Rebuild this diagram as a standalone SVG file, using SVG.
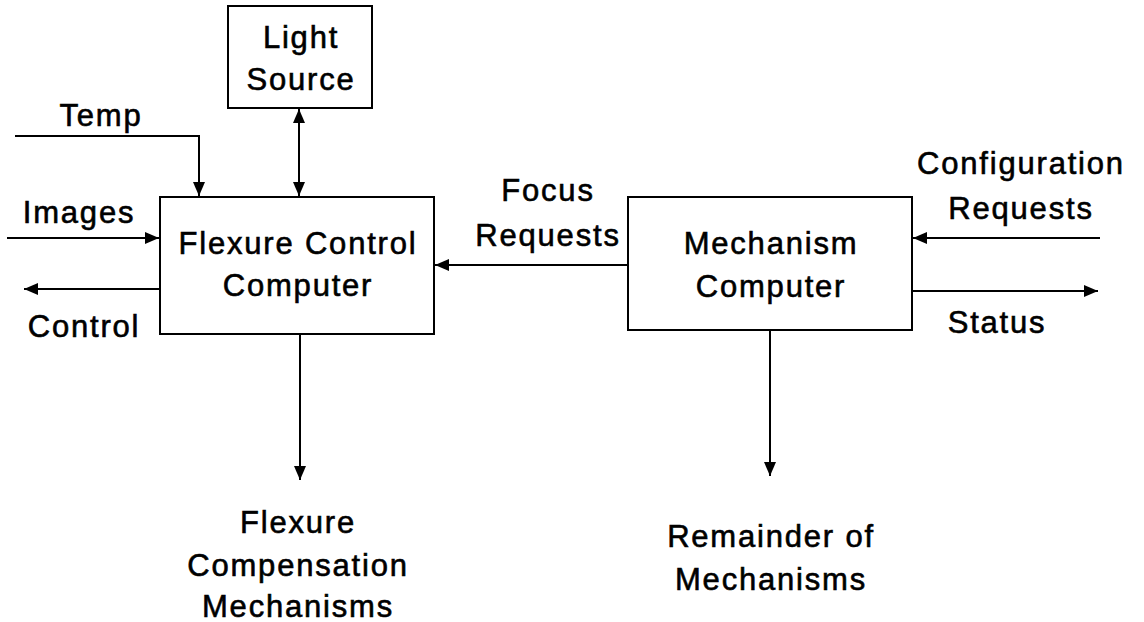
<svg xmlns="http://www.w3.org/2000/svg" width="1144" height="622" viewBox="0 0 1144 622">
<style>
text{font-family:"Liberation Sans",Arial,sans-serif;font-size:31px;fill:#000;stroke:#000;stroke-width:0.6;letter-spacing:1.8px;text-anchor:middle}
.box{fill:#fff;stroke:#000;stroke-width:2}
.ln{fill:none;stroke:#000;stroke-width:2}
</style>
<defs>
<marker id="ah" markerWidth="14" markerHeight="12" refX="14" refY="6" orient="auto" markerUnits="userSpaceOnUse"><path d="M0,0L14,6L0,12z" fill="#000"/></marker>
<marker id="as" markerWidth="14" markerHeight="12" refX="0" refY="6" orient="auto" markerUnits="userSpaceOnUse"><path d="M14,0L0,6L14,12z" fill="#000"/></marker>
</defs>
<rect width="1144" height="622" fill="#fff"/>
<g id="connectors">
<path class="ln" d="M15,136H199V196" marker-end="url(#ah)"/>
<path class="ln" d="M299,109V196" marker-start="url(#as)" marker-end="url(#ah)"/>
<path class="ln" d="M7,238H159" marker-end="url(#ah)"/>
<path class="ln" d="M160,289H24" marker-end="url(#ah)"/>
<path class="ln" d="M300,334V480" marker-end="url(#ah)"/>
<path class="ln" d="M628,265H435" marker-end="url(#ah)"/>
<path class="ln" d="M1100,238H913" marker-end="url(#ah)"/>
<path class="ln" d="M912,291H1098" marker-end="url(#ah)"/>
<path class="ln" d="M770,330V476" marker-end="url(#ah)"/>
</g>
<g id="light-source"><rect class="box" x="228" y="6" width="144" height="102"/><text x="301" y="48">Light</text><text x="301" y="90">Source</text></g>
<g id="flexure-control"><rect class="box" x="160" y="197" width="274" height="137"/><text x="298" y="254">Flexure Control</text><text x="298" y="296">Computer</text></g>
<g id="mechanism"><rect class="box" x="628" y="197" width="284" height="133"/><text x="771" y="254">Mechanism</text><text x="771" y="297">Computer</text></g>
<g id="labels">
<text x="101" y="126">Temp</text>
<text x="79" y="223">Images</text>
<text x="84" y="337">Control</text>
<text x="548" y="201">Focus</text>
<text x="548" y="246">Requests</text>
<text x="1021" y="174">Configuration</text>
<text x="1021" y="219">Requests</text>
<text x="997" y="333">Status</text>
<text x="298" y="533">Flexure</text>
<text x="298" y="576">Compensation</text>
<text x="298" y="617">Mechanisms</text>
<text x="771" y="547">Remainder of</text>
<text x="771" y="590">Mechanisms</text>
</g>
</svg>
